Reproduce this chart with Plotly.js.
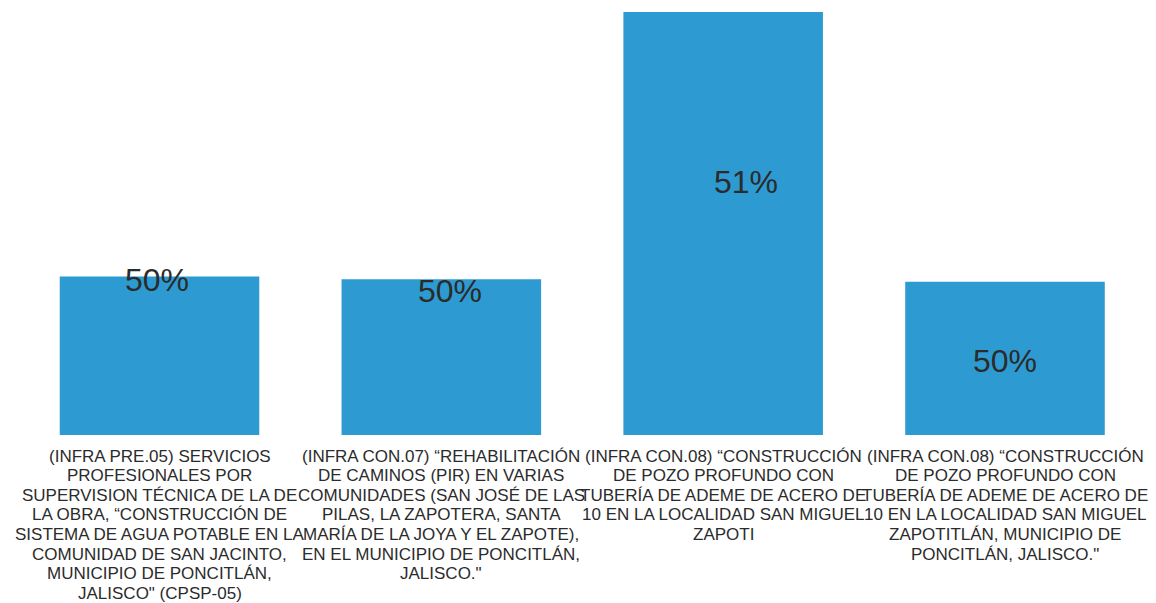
<!DOCTYPE html>
<html>
<head>
<meta charset="utf-8">
<script src="https://cdn.plot.ly/plotly-3.0.1.min.js"></script>
<style>
  html, body { margin: 0; padding: 0; background: #ffffff; }
  #chart { width: 1156px; height: 603px; }
</style>
</head>
<body>
<div id="chart"></div>
<script>
// ---- data ----
const categories = [
  "(INFRA PRE.05) SERVICIOS\nPROFESIONALES POR\nSUPERVISION TÉCNICA DE LA DE\nLA OBRA, “CONSTRUCCIÓN DE\nSISTEMA DE AGUA POTABLE EN LA\nCOMUNIDAD DE SAN JACINTO,\nMUNICIPIO DE PONCITLÁN,\nJALISCO\" (CPSP-05)",
  "(INFRA CON.07) “REHABILITACIÓN\nDE CAMINOS (PIR) EN VARIAS\nCOMUNIDADES (SAN JOSÉ DE LAS\nPILAS, LA ZAPOTERA, SANTA\nMARÍA DE LA JOYA Y EL ZAPOTE),\nEN EL MUNICIPIO DE PONCITLÁN,\nJALISCO.\"",
  "(INFRA CON.08) “CONSTRUCCIÓN\nDE POZO PROFUNDO CON\nTUBERÍA DE ADEME DE ACERO DE\n10 EN LA LOCALIDAD SAN MIGUEL\nZAPOTI",
  "(INFRA CON.08) “CONSTRUCCIÓN\nDE POZO PROFUNDO CON\nTUBERÍA DE ADEME DE ACERO DE\n10 EN LA LOCALIDAD SAN MIGUEL\nZAPOTITLÁN, MUNICIPIO DE\nPONCITLÁN, JALISCO.\""
];
const values = [0.5000, 0.4999, 0.5100, 0.4998];
const valueLabels = values.map(v => Math.round(v * 100) + "%");
const axisMin = 0.49401;
const axisMax = 0.5100;

// ---- label placement (styling only) ----
const valueShiftX = [-3, 9, 23, 0];
const valueShiftY = [-3, -12, -170, -79];
const lineGap = 19.6;
const firstLineShift = -21;

const BLUE = "#2d9bd2";
const TEXT = "#2b2b2b";
const FONT = "'Liberation Sans', Arial, sans-serif";

const trace = {
  type: "bar",
  x: categories,
  y: values,
  marker: { color: BLUE, line: { width: 0 } },
  hoverinfo: "skip"
};

const annotations = [];
values.forEach((v, i) => {
  annotations.push({
    x: categories[i], y: v, xref: "x", yref: "y",
    text: valueLabels[i], showarrow: false,
    xanchor: "center", yanchor: "middle",
    xshift: valueShiftX[i], yshift: valueShiftY[i],
    font: { family: FONT, size: 32, color: TEXT }
  });
});
categories.forEach((c, i) => {
  c.split("\n").forEach((line, j) => {
    annotations.push({
      x: c, y: 0, xref: "x", yref: "paper",
      text: line, showarrow: false,
      xanchor: "center", yanchor: "middle",
      yshift: firstLineShift - j * lineGap,
      font: { family: FONT, size: 17, color: TEXT }
    });
  });
});

const layout = {
  width: 1156, height: 603,
  margin: { l: 13, r: 6, t: 12, b: 168 },
  paper_bgcolor: "#ffffff",
  plot_bgcolor: "#ffffff",
  showlegend: false,
  bargap: 0.292,
  xaxis: {
    type: "category",
    showticklabels: false, showgrid: false, zeroline: false,
    showline: false, ticks: ""
  },
  yaxis: {
    range: [axisMin, axisMax],
    showticklabels: false, showgrid: false, zeroline: false,
    showline: false, ticks: ""
  },
  annotations: annotations
};

Plotly.newPlot("chart", [trace], layout, { displayModeBar: false, staticPlot: true });
</script>
</body>
</html>
